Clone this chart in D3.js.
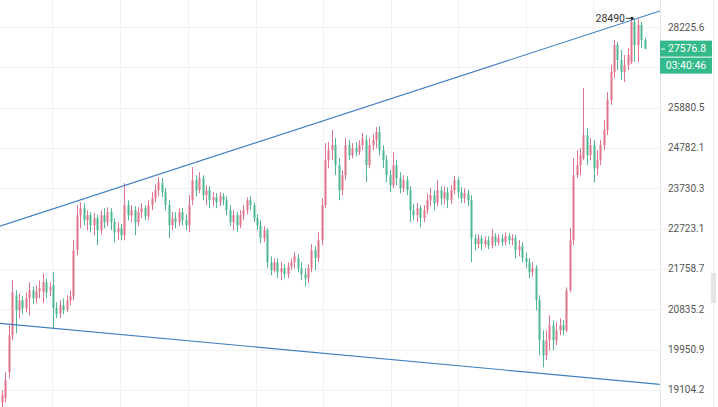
<!DOCTYPE html>
<html><head><meta charset="utf-8">
<script src="https://cdn.jsdelivr.net/npm/d3@7"></script>
<style>html,body{margin:0;padding:0;background:#fff;overflow:hidden}svg{display:block}</style>
</head><body>
<svg id="c" width="718" height="407"></svg>
<script>
const opens = [18847,18928,19465,20257,21149,20810,21035,20855,21081,21263,
21081,21240,21217,21447,21263,21378,20855,20743,20923,20833,
21035,21126,22199,23052,23226,22928,23052,22805,22978,22682,
23052,22879,23126,22879,22633,22731,22561,23302,23052,23176,
22879,23126,23226,23027,23302,23477,23680,23860,23629,23302,
22805,22978,22879,23126,22928,22805,23427,23937,23680,23989,
23553,23680,23427,23503,23377,23528,23427,23176,22879,23052,
22805,23052,23176,23427,23302,22978,22805,22488,22682,21914,
21726,21914,21679,21773,21633,21820,21914,22009,21773,21633,
21540,21773,22199,22009,22439,23302,24458,24723,24857,24327,
23680,24066,24857,24590,24777,24670,24857,24991,24327,24857,
24991,25207,24723,24458,24066,23809,24327,23989,23731,23937,
23680,23176,23052,23226,22978,23176,23427,23553,23352,23680,
23477,23629,23427,23680,23937,23629,23477,23604,23427,22488,
22343,22488,22343,22439,22319,22536,22391,22488,22391,22536,
22439,22488,22199,22295,22009,21914,21679,21773,21035,20148,
19826,20148,20477,20148,20366,20477,20366,21263,22439,24066,
24327,24511,25126,24590,24857,24248,24458,24857,25261,26091,
26890,27684,27240,26890,27094,27182,28378,27684,28287,27834];
const highs = [19092,19465,20477,21493,21263,21195,21126,21217,21447,21355,
21378,21493,21656,21540,21447,21679,20990,21035,21081,21149,
21263,22439,23302,23377,23352,23176,23126,23102,23052,23176,
23226,23251,23226,22978,22879,22830,23860,23427,23302,23276,
23251,23352,23302,23427,23629,23834,24015,23989,23731,23427,
23126,23126,23226,23226,23077,23553,24275,24066,24144,24066,
23809,23783,23629,23604,23629,23604,23528,23302,23176,23126,
23176,23302,23503,23528,23377,23077,22928,22781,22731,22056,
22009,22009,21914,21867,21914,22009,22151,22104,21914,21773,
21867,22343,22295,22633,23477,24911,24937,25261,25045,24511,
24196,25045,24991,24911,24937,24991,25180,25126,25045,25153,
25343,25371,24857,24590,24196,24670,24458,24144,24066,24040,
23783,23327,23352,23302,23302,23604,23731,23680,23937,23783,
23783,23757,23809,24040,24015,23757,23731,23680,23553,22585,
22585,22561,22536,22536,22707,22609,22585,22585,22633,22609,
22585,22561,22439,22391,22151,22009,21914,21844,21149,20366,
20366,20698,20587,20543,20632,20587,21332,22731,24511,24723,
24777,26430,25316,25045,24991,24723,24991,25535,26317,27094,
27834,27774,27535,27388,27595,28490,28480,28470,28378,27900];
const lows = [18746,18847,19341,20148,20301,20632,20721,20765,20698,20945,
20968,21081,20968,21081,21126,20410,20632,20632,20721,20765,
20923,21035,22080,22731,22805,22682,22633,22561,22319,22585,
22731,22781,22682,22391,22439,22439,22439,22928,22879,22561,
22781,22978,22928,22928,23176,23377,23528,23503,23176,22488,
22682,22731,22781,22805,22682,22633,23302,23528,23604,23427,
23302,23226,23276,23226,23276,23302,23052,22781,22682,22633,
22731,22928,23077,23176,22879,22682,22367,22391,21773,21610,
21679,21540,21493,21540,21540,21726,21773,21679,21493,21355,
21424,21679,21726,21914,22319,23226,24248,24458,24066,23427,
23553,23937,24458,24511,24564,24590,24723,23886,24248,24723,
24777,24590,24248,23886,23629,23731,23809,23604,23629,23553,
22879,22928,22879,22756,22879,23077,23276,23176,23276,23302,
23327,23226,23327,23579,23477,23352,23352,23276,21914,22199,
22247,22199,22271,22223,22247,22295,22319,22295,22319,22343,
22319,22009,22056,21914,21773,21540,21586,20810,19826,19570,
19719,19932,19932,20040,20257,20257,20322,21217,22319,23989,
24066,24458,24327,24458,23886,24066,24327,24723,25126,25951,
26717,26948,26659,26602,26948,27123,27182,27182,27595,27560];
const closes = [18990,19299,20257,21217,20810,21035,20855,21081,21263,21081,
21240,21309,21447,21217,21332,20855,20721,20923,20810,21035,
21126,22199,23052,23226,22928,23052,22805,22978,22682,23052,
22879,23126,22879,22633,22731,22561,23302,23052,23176,22879,
23126,23226,23027,23302,23477,23680,23886,23629,23302,22805,
22978,22879,23126,22928,22805,23302,23937,23680,23989,23553,
23680,23427,23503,23377,23528,23427,23176,22879,23052,22805,
23052,23176,23427,23302,22978,22805,22488,22682,21914,21726,
21914,21679,21773,21633,21820,21914,22056,21773,21633,21540,
21773,22199,22009,22439,23302,24458,24723,24857,24327,23680,
24066,24857,24590,24777,24670,24857,25045,24327,24857,24991,
25207,24723,24458,24066,23809,24327,23989,23731,23937,23680,
23176,23052,23226,22978,23176,23427,23553,23352,23680,23477,
23629,23427,23680,23937,23629,23477,23604,23427,22488,22343,
22488,22343,22439,22319,22536,22391,22488,22391,22536,22439,
22488,22199,22295,22009,21914,21679,21773,21035,20148,19826,
20148,20477,20148,20366,20477,20366,21263,22439,24066,24327,
24590,25126,24590,24857,24248,24458,24857,25261,26091,26890,
27684,27240,26890,27094,27388,28378,27684,28287,27834,27576.8];

// grid levels (the 27028.0 level is hidden behind the price boxes in the reference)
const gridValues = [28225.6, 27028.0, 25880.5, 24782.1, 23730.3, 22723.1, 21758.7, 20835.2, 19950.9, 19104.2];
const tickValues = [28225.6, 25880.5, 24782.1, 23730.3, 22723.1, 21758.7, 20835.2, 19950.9, 19104.2];
const tickLabels = ["28225.6", "25880.5", "24782.1", "23730.3", "22723.1", "21758.7", "20835.2", "19950.9", "19104.2"];
const lastPrice = 27576.8;
const lastPriceLabel = "27576.8";
const countdownLabel = "03:40:46";
const peakPrice = 28490;
const peakLabel = "28490";
const peakIndex = 185;
const upperTrend = [[-0.6, 22781], [193.5, 28716]];
const lowerTrend = [[-0.6, 20520], [193.5, 19216]];
const gridIndexes = [14.7, 34.7, 54.7, 74.7, 94.4, 114.4, 134.1, 154.1, 173.8];

const W = 718, H = 407, plotR = 660;
const svg = d3.select("#c");
const x = d3.scaleLinear().domain([0, closes.length - 1]).range([2, 644.6]);
const y = d3.scaleLog().domain([19950.9, 28225.6]).range([349.5, 27]);

svg.append("defs").append("clipPath").attr("id", "pc")
  .append("rect").attr("x", 0).attr("y", 0).attr("width", plotR).attr("height", H);

const grid = svg.append("g");
grid.selectAll("line.h").data(gridValues).join("line")
  .attr("x1", 0).attr("x2", plotR)
  .attr("y1", d => Math.round(y(d)) + 0.5).attr("y2", d => Math.round(y(d)) + 0.5)
  .attr("stroke", "#f1f1f1").attr("stroke-width", 1);
grid.selectAll("line.v").data(gridIndexes).join("line")
  .attr("x1", d => Math.round(x(d)) + 0.5).attr("x2", d => Math.round(x(d)) + 0.5)
  .attr("y1", 0).attr("y2", H)
  .attr("stroke", "#f1f1f1").attr("stroke-width", 1);

const plot = svg.append("g").attr("clip-path", "url(#pc)");
const idx = d3.range(closes.length);
const upC = "#e2738c", dnC = "#4db891";
const col = i => closes[i] >= opens[i] ? upC : dnC;

plot.selectAll("line.wick").data(idx).join("line")
  .attr("x1", i => Math.round(x(i)) + 0.5).attr("x2", i => Math.round(x(i)) + 0.5)
  .attr("y1", i => y(highs[i])).attr("y2", i => y(lows[i]))
  .attr("stroke", col).attr("stroke-width", 1);
plot.selectAll("rect.body").data(idx).join("rect")
  .attr("x", i => Math.round(x(i)) - 0.5).attr("width", 2)
  .attr("y", i => Math.min(y(opens[i]), y(closes[i])))
  .attr("height", i => Math.max(1, Math.abs(y(opens[i]) - y(closes[i]))))
  .attr("fill", col);

const tl = d3.line().x(d => x(d[0])).y(d => y(d[1]));
[upperTrend, lowerTrend].forEach(t => {
  plot.append("path").attr("d", tl(t)).attr("fill", "none")
    .attr("stroke", "#3f7fc1").attr("stroke-width", 1.1);
});

// peak marker
const px = x(peakIndex) + 1, py = y(peakPrice);
svg.append("line").attr("x1", px - 6).attr("x2", px).attr("y1", py).attr("y2", py)
  .attr("stroke", "#333").attr("stroke-width", 1);
svg.append("circle").attr("cx", px).attr("cy", py).attr("r", 1.5).attr("fill", "#222");
svg.append("text").attr("x", px - 7).attr("y", py).attr("dy", "0.35em")
  .attr("text-anchor", "end").attr("font-family", "Roboto, Arial, sans-serif")
  .attr("font-size", 10.5).attr("fill", "#333").text(peakLabel);

// right axis
const ax = svg.append("g");
ax.append("rect").attr("x", plotR).attr("y", 0).attr("width", W - plotR).attr("height", H).attr("fill", "#fff");
ax.append("line").attr("x1", plotR + 0.5).attr("x2", plotR + 0.5).attr("y1", 0).attr("y2", H)
  .attr("stroke", "#e6e6e6");
ax.append("line").attr("x1", 713.5).attr("x2", 713.5).attr("y1", 0).attr("y2", H)
  .attr("stroke", "#efefef");
ax.append("rect").attr("x", 711).attr("y", 273).attr("width", 5).attr("height", 30)
  .attr("rx", 1).attr("fill", "#e4e4e4");
ax.selectAll("text.t").data(tickValues).join("text")
  .attr("x", 668).attr("y", d => y(d)).attr("dy", "0.35em")
  .attr("font-family", "Roboto, Arial, sans-serif").attr("font-size", 10)
  .attr("fill", "#555").text((d, i) => tickLabels[i]);

const ly = y(lastPrice);
const boxC = "#33b98a";
ax.append("rect").attr("x", plotR).attr("y", ly - 8).attr("width", 52).attr("height", 16).attr("fill", boxC);
ax.append("rect").attr("x", plotR).attr("y", ly + 9).attr("width", 52).attr("height", 16).attr("fill", boxC);
ax.append("line").attr("x1", plotR + 1).attr("x2", plotR + 5).attr("y1", ly + 0.5).attr("y2", ly + 0.5)
  .attr("stroke", "#fff");
ax.append("text").attr("x", 668).attr("y", ly).attr("dy", "0.35em")
  .attr("font-family", "Roboto, Arial, sans-serif").attr("font-size", 10.5)
  .attr("fill", "#fff").text(lastPriceLabel);
ax.append("text").attr("x", 686).attr("y", ly + 17).attr("dy", "0.35em").attr("text-anchor", "middle")
  .attr("font-family", "Roboto, Arial, sans-serif").attr("font-size", 10.5)
  .attr("fill", "#fff").text(countdownLabel);
</script>
</body></html>
